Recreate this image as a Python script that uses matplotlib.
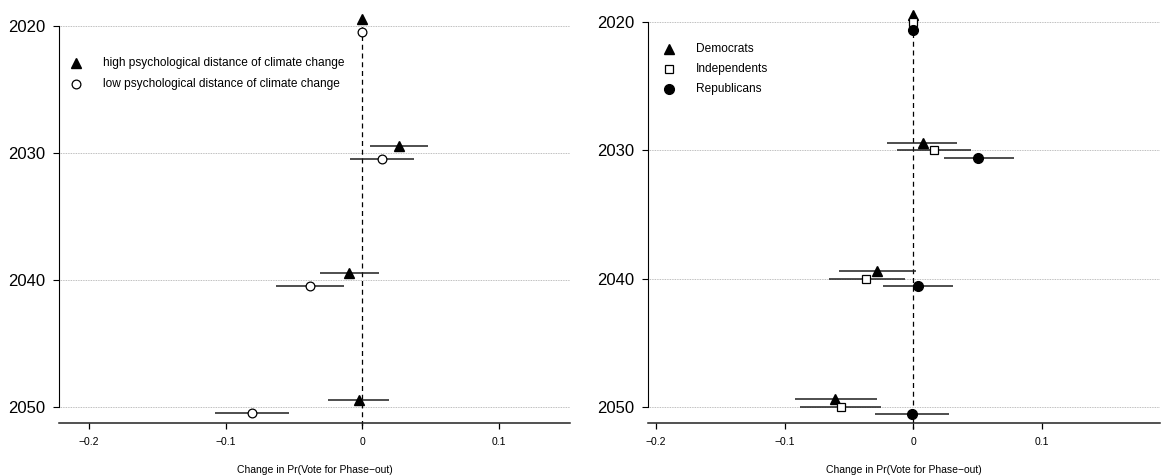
import matplotlib
matplotlib.use("Agg")
import matplotlib.pyplot as plt
import numpy as np

plt.rcParams["font.family"] = ["Liberation Sans", "DejaVu Sans"]

W, H = 1161, 475

YEARS = [2020, 2030, 2040, 2050]
YEAR_LABELS = ["2020", "2030", "2040", "2050"]
X_TICKS = [-0.2, -0.1, 0.0, 0.1]
X_TICK_LABELS = ["\u22120.2", "\u22120.1", "0", "0.1"]
X_LABEL = "Change in Pr(Vote for Phase\u2212out)"

# left panel: psychological distance of climate change
DIST_LABELS = ["high psychological distance of climate change",
               "low psychological distance of climate change"]
HIGH_EST = [0.0, 0.0265, -0.0095, -0.0027]
HIGH_LO = [0.0, 0.0054, -0.0310, -0.0250]
HIGH_HI = [0.0, 0.0480, 0.0120, 0.0195]
LOW_EST = [0.0, 0.0143, -0.0384, -0.0810]
LOW_LO = [0.0, -0.0089, -0.0635, -0.1080]
LOW_HI = [0.0, 0.0378, -0.0132, -0.0540]

# right panel: party identification
PARTY_LABELS = ["Democrats", "Independents", "Republicans"]
DEM_EST = [0.0, 0.0072, -0.0280, -0.0605]
DEM_LO = [0.0, -0.0202, -0.0576, -0.0916]
DEM_HI = [0.0, 0.0340, 0.0020, -0.0280]
IND_EST = [0.0, 0.0158, -0.0366, -0.0565]
IND_LO = [0.0, -0.0130, -0.0657, -0.0879]
IND_HI = [0.0, 0.0447, -0.0063, -0.0254]
REP_EST = [0.0, 0.0504, 0.0035, -0.0009]
REP_LO = [0.0, 0.0236, -0.0236, -0.0294]
REP_HI = [0.0, 0.0784, 0.0311, 0.0274]

TRI = dict(marker="^", markersize=7.5, color="black", markeredgecolor="black")
CIRC_OPEN = dict(marker="o", markersize=6.3, markerfacecolor="white",
                 markeredgecolor="black", markeredgewidth=0.9)
SQ_OPEN = dict(marker="s", markersize=6.0, markerfacecolor="white",
               markeredgecolor="black", markeredgewidth=0.9)
CIRC_FULL = dict(marker="o", markersize=7.0, color="black")


def px_axes(fig, left, right, top, bottom):
    return fig.add_axes([left / W, 1 - bottom / H, (right - left) / W, (bottom - top) / H])


def draw_panel(ax, series, offsets, xlim, ylim):
    ax.set_xlim(*xlim)
    ax.set_ylim(*ylim)

    # dotted guides at each target year
    ax.hlines(YEARS, xlim[0], xlim[1], color="#a8a8a8", lw=0.6,
              linestyle=(0, (1, 1)), zorder=0)
    # reference line at zero effect
    ax.vlines(0, YEARS[0] - 0.6, ylim[0] + 0.5, color="black", lw=0.9,
              linestyle=(0, (4, 3)), zorder=1, clip_on=False)

    for (est, lo, hi, style), off in zip(series, offsets):
        y = np.array(YEARS) + off
        ax.hlines(y, lo, hi, color="#1e1e1e", lw=1.1, zorder=2)
        ax.plot(est, y, linestyle="none", zorder=3, clip_on=False, **style)

    for side in ("top", "right"):
        ax.spines[side].set_visible(False)
    ax.spines["left"].set_bounds(YEARS[0], YEARS[-1])
    ax.spines["left"].set_linewidth(0.8)
    ax.spines["bottom"].set_linewidth(1.1)
    ax.spines["bottom"].set_color("#222222")

    ax.set_yticks(YEARS)
    ax.set_yticklabels(YEAR_LABELS, fontsize=12)
    ax.set_xticks(X_TICKS)
    ax.set_xticklabels(X_TICK_LABELS, fontsize=7.5)
    ax.tick_params(axis="y", length=4.5, width=0.8, pad=5.5)
    ax.tick_params(axis="x", length=4.5, width=0.9, pad=6)
    ax.set_xlabel(X_LABEL, fontsize=7.5, labelpad=13)


def draw_key(fig, labels, styles, x_mark, x_text, ys):
    for label, style, y in zip(labels, styles, ys):
        fig.add_artist(plt.Line2D([x_mark / W], [1 - y / H], linestyle="none",
                                  transform=fig.transFigure, **style))
        fig.text(x_text / W, 1 - y / H, label, fontsize=8.6, va="center", ha="left")


fig = plt.figure(figsize=(W / 100, H / 100), dpi=100)

ax1 = px_axes(fig, 59, 570, 8, 422.7)
draw_panel(ax1,
           [(HIGH_EST, HIGH_LO, HIGH_HI, TRI),
            (LOW_EST, LOW_LO, LOW_HI, CIRC_OPEN)],
           [-0.55, 0.52],
           (-0.2219, 0.1519), (2051.26, 2018.61))
draw_key(fig, DIST_LABELS, [TRI, CIRC_OPEN], 76, 103, [62.7, 84])

ax2 = px_axes(fig, 648.3, 1160, 8, 422.7)
draw_panel(ax2,
           [(DEM_EST, DEM_LO, DEM_HI, TRI),
            (IND_EST, IND_LO, IND_HI, SQ_OPEN),
            (REP_EST, REP_LO, REP_HI, CIRC_FULL)],
           [-0.6, 0.0, 0.6],
           (-0.2059, 0.1917), (2051.25, 2018.88))
draw_key(fig, PARTY_LABELS, [TRI, SQ_OPEN, CIRC_FULL], 669, 695.6, [48.7, 68.8, 89])

fig.savefig("out.png", dpi=100)
